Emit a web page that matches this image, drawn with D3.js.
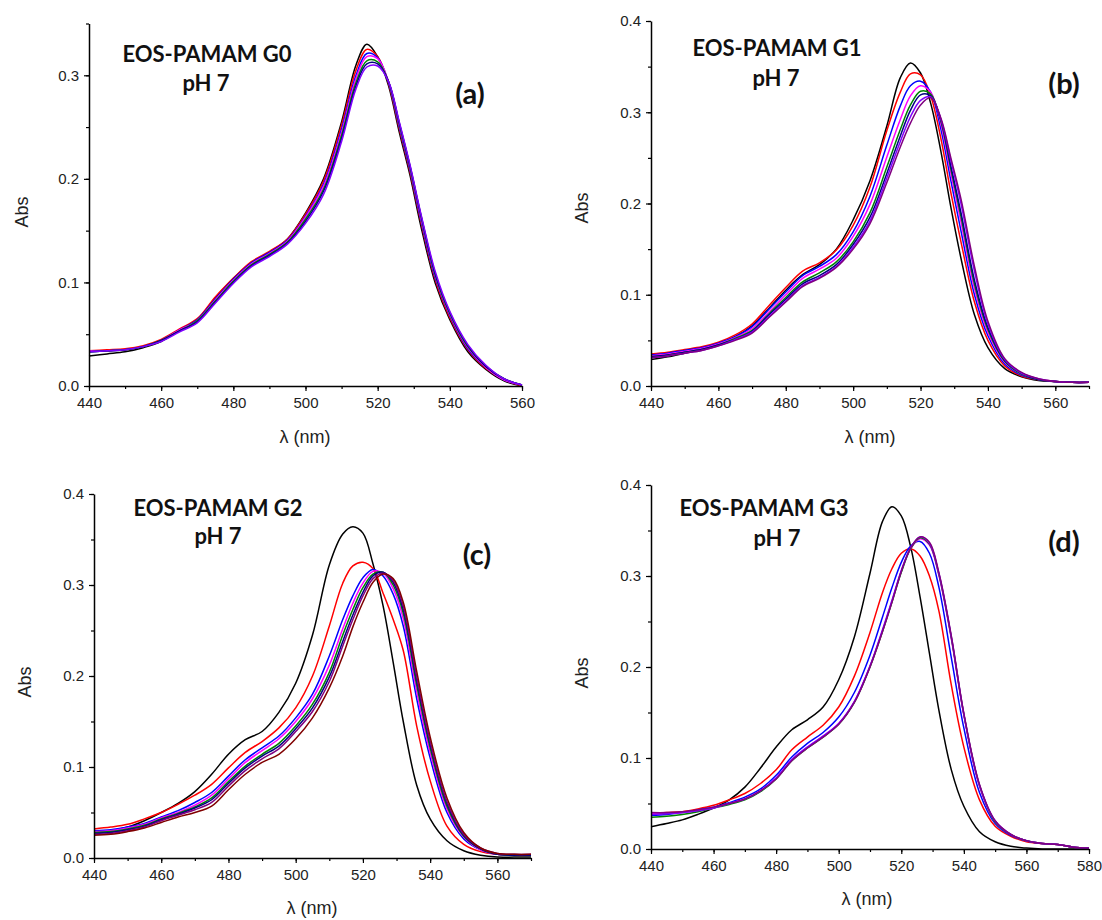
<!DOCTYPE html>
<html><head><meta charset="utf-8">
<script src="https://cdn.jsdelivr.net/npm/d3@7"></script>
<style>body{margin:0;background:#fff}</style>
</head><body>
<svg id="chart" width="1102" height="920"></svg>
<script>
// wavelength grid (nm)
const wl = [440,445,450,455,460,465,470,475,480,485,490,495,500,505,510,514,517,520,523,526,529,532,536,540,545,550,555,560,565,570,575,580];

// Panel (a) EOS-PAMAM G0
const a_black  = [.029,.031,.033,.037,.043,.054,.064,.085,.104,.119,.129,.142,.167,.200,.255,.310,.330,.318,.290,.245,.203,.154,.099,.064,.033,.016,.005,.000];
const a_red    = [.034,.035,.036,.039,.045,.055,.065,.086,.104,.120,.130,.142,.166,.198,.252,.305,.325,.318,.292,.248,.206,.158,.102,.066,.035,.017,.006,.000];
const a_blue   = [.033,.034,.035,.038,.044,.054,.064,.084,.103,.119,.129,.141,.164,.195,.248,.300,.321,.317,.293,.250,.208,.160,.104,.068,.036,.018,.006,.001];
const a_magenta= [.034,.034,.035,.038,.044,.054,.063,.083,.102,.118,.128,.140,.163,.193,.245,.297,.318,.316,.294,.252,.210,.162,.106,.069,.037,.018,.006,.001];
const a_green  = [.033,.034,.035,.038,.044,.053,.063,.082,.101,.117,.127,.139,.161,.190,.242,.293,.314,.313,.294,.253,.211,.164,.107,.070,.038,.019,.007,.001];
const a_navy   = [.033,.034,.035,.038,.044,.053,.062,.081,.100,.116,.126,.138,.159,.188,.239,.290,.311,.311,.294,.254,.212,.165,.108,.071,.039,.019,.007,.001];
const a_violet = [.033,.034,.035,.038,.043,.052,.061,.080,.099,.115,.125,.137,.157,.185,.236,.287,.308,.309,.294,.255,.213,.166,.110,.072,.040,.020,.007,.001];

// Panel (b) EOS-PAMAM G1
const b_black  = [.029,.032,.036,.040,.046,.054,.066,.085,.105,.122,.133,.150,.182,.225,.285,.338,.354,.343,.310,.258,.196,.140,.078,.042,.019,.010,.006,.005,.004,.004];
const b_red    = [.035,.037,.040,.043,.048,.056,.068,.088,.108,.126,.135,.149,.176,.218,.280,.322,.342,.341,.318,.272,.212,.158,.092,.050,.022,.011,.007,.005,.004,.004];
const b_blue   = [.034,.036,.039,.042,.047,.054,.065,.084,.103,.121,.131,.144,.169,.208,.264,.307,.329,.334,.322,.282,.225,.170,.100,.055,.024,.012,.007,.005,.004,.004];
const b_magenta= [.033,.035,.038,.041,.046,.053,.063,.081,.100,.118,.128,.140,.164,.199,.251,.292,.318,.329,.322,.288,.233,.180,.107,.059,.026,.013,.007,.005,.004,.004];
const b_green  = [.032,.034,.037,.040,.045,.052,.061,.079,.097,.114,.124,.136,.158,.190,.240,.281,.308,.323,.320,.291,.238,.186,.112,.062,.027,.013,.007,.005,.004,.004];
const b_navy   = [.032,.034,.037,.040,.045,.051,.060,.078,.095,.112,.121,.133,.155,.185,.233,.274,.302,.319,.318,.292,.241,.190,.116,.064,.028,.014,.007,.005,.004,.004];
const b_violet = [.031,.033,.036,.039,.044,.051,.059,.076,.093,.110,.119,.131,.152,.181,.228,.268,.295,.313,.317,.293,.247,.200,.126,.068,.029,.014,.008,.005,.004,.004];
const b_purple = [.031,.033,.036,.039,.044,.050,.058,.075,.092,.109,.118,.130,.150,.178,.223,.262,.288,.308,.316,.294,.250,.205,.131,.071,.030,.015,.008,.005,.004,.004];

// Panel (c) EOS-PAMAM G2
const c_black  = [.027,.030,.034,.041,.050,.060,.073,.092,.114,.130,.139,.160,.192,.245,.322,.356,.364,.357,.323,.277,.215,.150,.080,.043,.019,.008,.003,.001,.001,.001];
const c_red    = [.032,.034,.037,.043,.050,.059,.069,.081,.099,.116,.128,.143,.165,.200,.255,.302,.321,.325,.318,.291,.262,.228,.145,.085,.035,.015,.007,.004,.003,.003];
const c_blue   = [.030,.031,.034,.038,.045,.052,.061,.072,.090,.108,.121,.134,.154,.180,.222,.262,.288,.308,.317,.310,.290,.255,.175,.110,.050,.021,.009,.004,.003,.003];
const c_magenta= [.029,.030,.033,.037,.044,.050,.058,.069,.087,.105,.118,.131,.150,.175,.212,.252,.280,.302,.315,.313,.296,.263,.183,.116,.054,.023,.009,.004,.003,.003];
const c_green  = [.028,.029,.032,.036,.043,.049,.056,.066,.084,.101,.114,.126,.145,.169,.204,.245,.273,.297,.312,.314,.300,.269,.190,.121,.057,.024,.010,.004,.003,.003];
const c_navy   = [.027,.028,.031,.035,.042,.048,.055,.064,.082,.099,.112,.123,.142,.165,.199,.238,.267,.292,.310,.314,.303,.273,.195,.125,.060,.025,.010,.004,.003,.003];
const c_purple = [.026,.027,.030,.034,.041,.047,.053,.061,.079,.096,.109,.120,.139,.161,.194,.233,.262,.288,.307,.313,.305,.277,.199,.128,.062,.026,.011,.005,.004,.004];
const c_wine   = [.025,.026,.029,.033,.039,.045,.050,.057,.075,.092,.105,.114,.131,.154,.187,.222,.254,.281,.303,.312,.307,.281,.205,.133,.066,.028,.011,.005,.004,.004];

// Panel (d) EOS-PAMAM G3
const d_black  = [.0245,.028,.032,.038,.045,.054,.068,.089,.112,.131,.142,.156,.186,.233,.303,.360,.376,.366,.332,.277,.215,.153,.087,.047,.019,.008,.003,.001,.000,.000,.000,.000];
const d_red    = [.039,.040,.041,.044,.048,.054,.061,.072,.087,.109,.123,.136,.156,.190,.238,.282,.308,.325,.330,.322,.300,.262,.180,.112,.054,.025,.014,.008,.006,.005,.002,.001];
const d_blue   = [.037,.038,.040,.043,.046,.051,.057,.066,.081,.101,.116,.128,.145,.172,.213,.255,.287,.315,.333,.338,.325,.288,.210,.133,.062,.028,.015,.009,.006,.005,.002,.001];
const d_magenta= [.039,.039,.040,.042,.045,.050,.055,.064,.078,.098,.112,.124,.138,.162,.201,.240,.272,.305,.330,.341,.334,.301,.231,.147,.069,.030,.016,.009,.006,.005,.002,.001];
const d_green  = [.035,.036,.038,.041,.045,.049,.054,.063,.077,.097,.111,.123,.137,.161,.200,.239,.271,.304,.330,.342,.335,.302,.232,.148,.070,.030,.016,.009,.006,.005,.002,.001];
const d_violet = [.038,.039,.040,.042,.045,.050,.055,.064,.078,.098,.112,.124,.138,.162,.201,.241,.273,.306,.331,.343,.336,.303,.233,.148,.070,.031,.016,.009,.006,.005,.002,.001];
const d_purple = [.040,.040,.041,.043,.046,.050,.055,.064,.077,.097,.111,.123,.137,.161,.200,.239,.271,.305,.331,.343,.337,.304,.234,.149,.071,.031,.016,.009,.006,.005,.002,.001];

// text
const titles = ["EOS-PAMAM G0","EOS-PAMAM G1","EOS-PAMAM G2","EOS-PAMAM G3"];
const subtitle = "pH 7";
const tags = ["(a)","(b)","(c)","(d)"];
const xTitle = "λ (nm)";
const yTitle = "Abs";
const xTicksA = [440,460,480,500,520,540,560];
const xTicksD = [440,460,480,500,520,540,560,580];
const yTicksA = [0,0.1,0.2,0.3];
const yTicksB = [0,0.1,0.2,0.3,0.4];

const COL = {black:"#000000",red:"#ff0000",blue:"#0000ff",magenta:"#ff00ff",green:"#008000",navy:"#000080",violet:"#8000ff",purple:"#800080",wine:"#800000"};

const panels = [
  {series:[["black",a_black],["red",a_red],["blue",a_blue],["magenta",a_magenta],["green",a_green],["navy",a_navy],["violet",a_violet]],
   xd:[440,560], yd:[0,0.35], xr:[89,522], yr:[386,23.5], xt:xTicksA, yt:yTicksA,
   title:[207,53], sub:[206,82], tag:[470,92], ylab:[22,212], xlab:[305,437]},
  {series:[["black",b_black],["red",b_red],["blue",b_blue],["magenta",b_magenta],["green",b_green],["navy",b_navy],["violet",b_violet],["purple",b_purple]],
   xd:[440,570], yd:[0,0.4], xr:[651,1089], yr:[386,21], xt:xTicksA, yt:yTicksB,
   title:[777,47], sub:[776,77], tag:[1064,82], ylab:[582,208], xlab:[870,437]},
  {series:[["black",c_black],["red",c_red],["blue",c_blue],["magenta",c_magenta],["green",c_green],["navy",c_navy],["purple",c_purple],["wine",c_wine]],
   xd:[440,570], yd:[0,0.4], xr:[94,531], yr:[858,494], xt:xTicksA, yt:yTicksB,
   title:[218,507], sub:[218,535], tag:[477,553], ylab:[25,682], xlab:[312,908]},
  {series:[["black",d_black],["red",d_red],["blue",d_blue],["magenta",d_magenta],["green",d_green],["violet",d_violet],["purple",d_purple]],
   xd:[440,580], yd:[0,0.4], xr:[651,1089], yr:[849,485], xt:xTicksD, yt:yTicksB,
   title:[764,507], sub:[777,537], tag:[1064,540], ylab:[582,673], xlab:[867,899]}
];

const svg = d3.select("#chart");
svg.append("rect").attr("width",1102).attr("height",920).attr("fill","#fff");
const sans = "'Liberation Sans', Arial, sans-serif";
const bold = "Lato, 'Open Sans', sans-serif";

panels.forEach((p,i)=>{
  const x = d3.scaleLinear().domain(p.xd).range(p.xr);
  const y = d3.scaleLinear().domain(p.yd).range(p.yr);
  const g = svg.append("g");
  const n = p.series[0][1].length;
  const xs = wl.slice(0,n);
  const line = d3.line().x((d,k)=>x(xs[k])).y(d=>y(d)).curve(d3.curveCatmullRom.alpha(0.5));
  p.series.forEach(([c,vals])=>{
    g.append("path").attr("d",line(vals)).attr("fill","none")
      .attr("stroke",COL[c]).attr("stroke-width",1.5).attr("stroke-linejoin","round");
  });
  // minor ticks
  const xMinor = d3.range(p.xd[0],p.xd[1]+0.1,10);
  const yMinor = d3.range(p.yd[0],p.yd[1]+0.001,0.05);
  g.append("g").attr("transform",`translate(0,${p.yr[0]})`)
    .call(d3.axisBottom(x).tickValues(xMinor).tickSize(3).tickFormat(""))
    .call(s=>s.select(".domain").remove())
    .selectAll("line").attr("stroke","#000").attr("stroke-width",1.2);
  g.append("g").attr("transform",`translate(${p.xr[0]},0)`)
    .call(d3.axisLeft(y).tickValues(yMinor).tickSize(3).tickFormat(""))
    .call(s=>s.select(".domain").remove())
    .selectAll("line").attr("stroke","#000").attr("stroke-width",1.2);
  // major axes
  const ax = g.append("g").attr("transform",`translate(0,${p.yr[0]})`)
    .call(d3.axisBottom(x).tickValues(p.xt).tickSize(5).tickSizeOuter(0).tickPadding(6).tickFormat(d3.format("d")));
  const ay = g.append("g").attr("transform",`translate(${p.xr[0]},0)`)
    .call(d3.axisLeft(y).tickValues(p.yt).tickSize(5).tickSizeOuter(0).tickPadding(5).tickFormat(d3.format(".1f")));
  [ax,ay].forEach(a=>{
    a.select(".domain").attr("stroke","#000").attr("stroke-width",1.5);
    a.selectAll(".tick line").attr("stroke","#000").attr("stroke-width",1.2);
    a.selectAll("text").attr("font-family",sans).attr("font-size",15).attr("fill","#222");
  });
  // axis titles
  g.append("text").attr("x",p.xlab[0]).attr("y",p.xlab[1]).attr("text-anchor","middle").attr("dominant-baseline","central")
    .attr("font-family",sans).attr("font-size",18).attr("fill","#222").text(xTitle);
  g.append("text").attr("transform",`translate(${p.ylab[0]},${p.ylab[1]}) rotate(-90)`).attr("text-anchor","middle").attr("dominant-baseline","central")
    .attr("font-family",sans).attr("font-size",18).attr("fill","#222").text(yTitle);
  // annotations
  g.append("text").attr("x",p.title[0]).attr("y",p.title[1]).attr("text-anchor","middle").attr("dominant-baseline","central")
    .attr("font-family",bold).attr("font-weight","bold").attr("font-size",22).attr("fill","#111").text(titles[i]);
  g.append("text").attr("x",p.sub[0]).attr("y",p.sub[1]).attr("text-anchor","middle").attr("dominant-baseline","central")
    .attr("font-family",bold).attr("font-weight","bold").attr("font-size",22).attr("fill","#111").text(subtitle);
  g.append("text").attr("x",p.tag[0]).attr("y",p.tag[1]).attr("text-anchor","middle").attr("dominant-baseline","central")
    .attr("font-family",bold).attr("font-weight","bold").attr("font-size",29).attr("fill","#111").text(tags[i]);
});
</script>
</body></html>
